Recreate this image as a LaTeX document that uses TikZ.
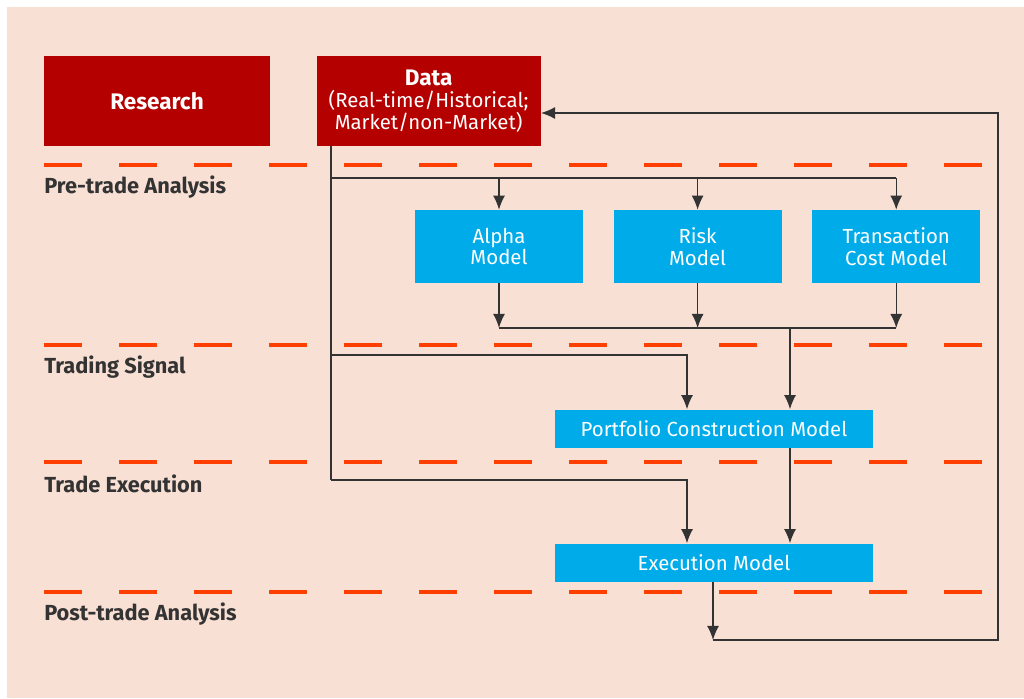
\documentclass[tikz,border=0pt]{standalone}
\usepackage{xcolor}
\usepackage{fontspec}
\setmainfont{Fira Sans}
\usepackage{tikz}
\usetikzlibrary{positioning,arrows.meta}

\definecolor{peach}{HTML}{F9E0D5}
\definecolor{deepred}{HTML}{B50000}
\definecolor{skyblue}{HTML}{00ABEA}
\definecolor{dashred}{HTML}{FF3F00}
\definecolor{inkgray}{HTML}{333333}

\begin{document}
\begin{tikzpicture}[
    % Define node styles
    x = 0.025cm, y = -0.025cm,
    font = \fontsize{14.5}{15.6}\selectfont,
    redbox/.style={rectangle, fill=deepred, text=white, align=center, inner sep=0pt, minimum width=5.6cm, minimum height=2.25cm},
    model/.style={rectangle, fill=skyblue, text=white, align=center, inner sep=0pt, minimum width=4.2cm, minimum height=1.825cm},
    wide/.style={rectangle, fill=skyblue, text=white, align=center, inner sep=0pt, minimum width=7.95cm, minimum height=0.95cm},
    phase/.style={anchor=west, text=inkgray, font=\fontsize{15.5}{16}\selectfont\bfseries, inner sep=0pt},
    divider/.style={dashred, line width=2.8pt, dash pattern=on 0.95cm off 0.925cm},
    link/.style={inkgray, line width=1pt},
    arr/.style={link, -{Latex[length=10pt, width=8.5pt]}},
]

% Background
\useasboundingbox (0,0) rectangle (1024,698);
\fill[peach] (7,7) rectangle (1024,698);

% Phase dividers
\foreach \yy/\name in {165/Pre-trade Analysis, 345/Trading Signal, 462/Trade Execution, 592/Post-trade Analysis}{
    \draw[divider] (44,\yy) -- (985,\yy);
    \node[phase] at (44,\yy+22) {\name};
}

% Main nodes
\node[redbox, minimum width=5.65cm] (research) at (157,101) {\fontsize{16}{16}\selectfont\bfseries Research};
\node[redbox, right= 1.15cm of research] (data) {{\fontsize{16}{15.6}\selectfont\bfseries Data}\\(Real-time/Historical;\\Market/non-Market)};

\node[model] (alpha) at (499,246.5) {Alpha\\Model};
\node[model, right= 0.75cm of alpha] (risk) {Risk\\Model};
\node[model, right= 0.75cm of risk] (tcm) {Transaction\\Cost Model};

\node[wide] (pcm) at (714,428.5) {Portfolio Construction Model};
\node[wide] (exec) at (714,562.5) {Execution Model};

% Junction points
\coordinate (split1) at (331,178);
\coordinate (split2) at (331,355);
\coordinate (split3) at (331,480);
\coordinate (merge) at (497,328);
\coordinate (signal) at (790,328);
\coordinate (drop) at (687,0);
\coordinate (fb) at (713,640);
\coordinate (back) at (998,113);

% Data feeds
\draw[link] (data.south -| split1) -- (split3);
\draw[link] (split1) -- (split1 -| tcm);
\foreach \m in {alpha,risk,tcm}
    \draw[arr] (split1 -| \m) -- (\m.north);

% Model outputs
\foreach \m in {alpha,risk,tcm}
    \draw[arr] (\m.south) -- (merge -| \m);
\draw[link] (merge -| alpha) -- (merge -| tcm);
\draw[arr] (signal) -- (signal |- pcm.north);
\draw[arr] (split2) -| (pcm.north -| drop);
\draw[arr] (split3) -| (exec.north -| drop);
\draw[arr] (signal |- pcm.south) -- (signal |- exec.north);

% Feedback loop
\draw[arr] (exec.south -| fb) -- (fb);
\draw[arr] (fb) -| (back) -- (back -| data.east);

\end{tikzpicture}
\end{document}
